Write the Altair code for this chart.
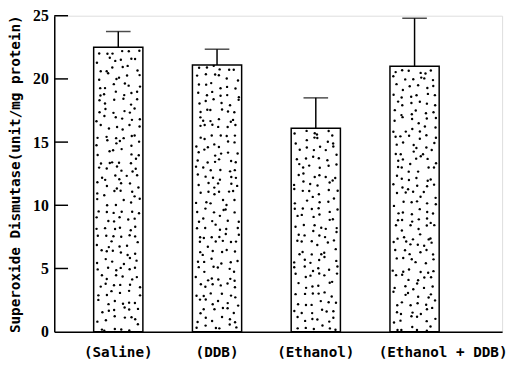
import altair as alt
import pandas as pd
import numpy as np

categories = ["(Saline)", "(DDB)", "(Ethanol)", "(Ethanol + DDB)"]
means = [22.5, 21.1, 16.1, 21.0]
err_tops = [23.75, 22.35, 18.5, 24.8]
y_ticks = [5, 10, 15, 20, 25]

bars = pd.DataFrame({"cat": categories, "mean": means, "top": err_tops})
ticks = pd.DataFrame({"t": y_ticks})

# stipple texture inside each bar (jittered grid, deterministic hash, purely decorative)
def _h(i, a):
    s = np.sin(i * a) * 43758.5453
    return s - np.floor(s)

rows = []
ncol = 6
for k, (c, v) in enumerate(zip(categories, means)):
    nrow = int(round(v * 9 / ncol))
    for r in range(nrow):
        for q in range(ncol):
            j = 1 + k * 5000 + r * ncol + q
            fx = (q + 0.1 + 0.8 * float(_h(j, 12.9898))) / ncol
            fy = (r + 0.1 + 0.8 * float(_h(j, 78.233))) / nrow
            rows.append({"cat": c, "fx": fx, "y": v * fy})
dots = pd.DataFrame(rows)

W, H = 455, 321
xscale = alt.Scale(domain=categories, paddingInner=0.5015, paddingOuter=0.518, align=0.385)
xenc = alt.X("cat:N", scale=xscale, sort=categories, title=None,
             axis=alt.Axis(labelAngle=0, ticks=False, domainColor="black", domainWidth=1.5,
                           labelFont="DejaVu Sans Mono", labelFontWeight="bold", labelFontSize=14.5,
                           labelColor="black", labelPadding=14,
                           labelOffset={"condition": {"test": "datum.value == '(Ethanol + DDB)'", "value": 29}, "value": 0}))
yscale = alt.Scale(domain=[0, 25], nice=False)
yenc = alt.Y("mean:Q", scale=yscale,
             title="Superoxide Dismutase(unit/mg protein)",
             axis=alt.Axis(values=[0, 5, 10, 15, 20, 25], ticks=False, grid=False,
                           domainColor="black", domainWidth=1.5,
                           labelFont="Liberation Serif", labelFontSize=16, labelFontWeight="bold",
                           labelColor="black",
                           labelPadding=6, titleFont="DejaVu Sans Mono", titleFontWeight="bold",
                           titleFontSize=14.5, titleColor="black", titlePadding=10))

bar = alt.Chart(bars).mark_bar(fill="white", stroke="black", strokeWidth=1.5,
                               width=50).encode(x=xenc, y=yenc)

dot = alt.Chart(dots).mark_circle(color="black", size=6, opacity=1).encode(
    x=alt.X("cat:N", scale=xscale, sort=categories),
    xOffset=alt.XOffset("fx:Q", scale=alt.Scale(domain=[0, 1], range=[2, 48])),
    y=alt.Y("y:Q", scale=yscale),
)

err = alt.Chart(bars).mark_rule(color="black", strokeWidth=1.5).encode(
    x=alt.X("cat:N", scale=xscale, sort=categories),
    y=alt.Y("mean:Q", scale=yscale), y2="top:Q")

cap = alt.Chart(bars).mark_tick(color="black", thickness=1.5, size=25, orient="horizontal").encode(
    x=alt.X("cat:N", scale=xscale, sort=categories),
    y=alt.Y("top:Q", scale=yscale))

tk = alt.Chart(ticks).mark_rule(color="black", strokeWidth=1.5).encode(
    x=alt.value(0), x2=alt.value(14), y=alt.Y("t:Q", scale=yscale))

chart = alt.layer(bar, dot, err, cap, tk).properties(
    width=W, height=H, autosize=alt.AutoSizeParams(type="none"),
    padding={"left": 47, "top": 5, "right": 7, "bottom": 30},
).configure_view(stroke=None).configure(background="white")

chart.save("out.html", embed_options={"renderer": "svg", "actions": False})
